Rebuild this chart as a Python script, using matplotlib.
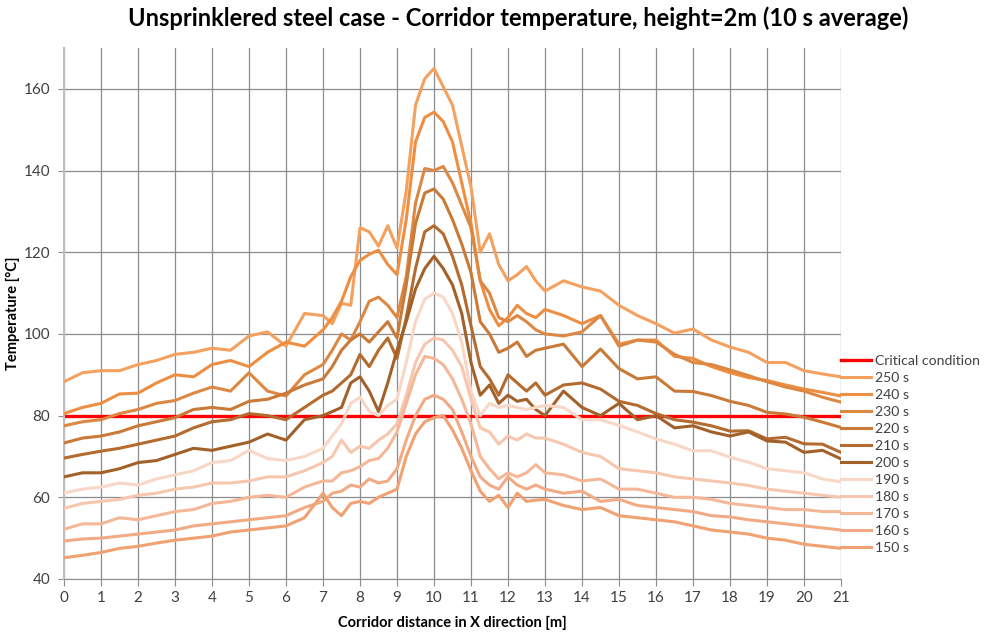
import matplotlib
matplotlib.use("Agg")
import matplotlib.pyplot as plt

plt.rcParams['font.family'] = ['Lato', 'DejaVu Sans']

# distance along corridor [m]
dist = [0, 0.5, 1, 1.5, 2, 2.5, 3, 3.5, 4, 4.5, 5, 5.5, 6, 6.5, 7,
        7.25, 7.5, 7.75, 8, 8.25, 8.5, 8.75, 9, 9.25, 9.5, 9.75, 10,
        10.25, 10.5, 10.75, 11, 11.25, 11.5, 11.75, 12, 12.25, 12.5, 12.75,
        13, 13.5, 14, 14.5, 15, 15.5, 16, 16.5, 17, 17.5, 18, 18.5, 19,
        19.5, 20, 20.5, 21]

critical_temp = 80

t250 = [88.3, 90.5, 91.0, 91.0, 92.5, 93.5, 95.0, 95.5, 96.5, 96.0, 99.5, 100.5, 97.0, 105.0, 104.5,
        102.5, 107.5, 107.0, 126.0, 125.0, 121.5, 126.5, 121.0, 135.0, 156.0, 162.5, 165.0,
        160.5, 156.0, 146.0, 136.0, 120.0, 124.5, 117.0, 113.0, 114.5, 116.5, 113.0,
        110.5, 113.0, 111.5, 110.5, 107.0, 104.5, 102.5, 100.2, 101.2, 98.5, 96.8, 95.5, 93.0,
        93.0, 91.0, 90.2, 89.5]
t240 = [80.5, 82.0, 83.0, 85.3, 85.5, 88.0, 90.0, 89.5, 92.5, 93.5, 92.0, 95.5, 98.0, 97.0, 101.0,
        104.0, 108.0, 114.0, 118.0, 119.5, 120.5, 117.0, 114.5, 128.0, 147.0, 153.0, 154.3,
        152.0, 147.0, 137.0, 127.0, 113.0, 106.0, 102.0, 104.0, 107.0, 105.0, 104.0,
        106.0, 104.5, 102.5, 104.5, 97.5, 98.5, 98.5, 94.5, 94.0, 92.0, 90.5, 89.3, 88.6,
        87.5, 86.5, 85.7, 84.8]
t230 = [77.5, 78.5, 79.0, 80.5, 81.5, 83.0, 83.7, 85.5, 87.0, 86.0, 90.5, 86.0, 84.8, 90.0, 92.5,
        96.0, 100.0, 98.5, 103.0, 108.0, 109.0, 107.0, 104.0, 114.0, 132.0, 140.5, 140.0,
        141.0, 137.0, 131.5, 126.0, 113.0, 110.0, 104.0, 103.0, 104.5, 103.0, 101.0,
        100.0, 99.5, 100.5, 104.5, 97.0, 98.5, 98.0, 95.0, 93.0, 92.5, 91.2, 89.8, 88.3,
        87.0, 86.0, 84.5, 83.3]
t220 = [73.3, 74.5, 75.0, 76.0, 77.5, 78.5, 79.5, 81.5, 82.0, 81.5, 83.5, 84.0, 85.5, 87.5, 89.0,
        92.0, 96.0, 98.5, 100.0, 98.0, 100.5, 103.0, 99.0, 112.0, 127.0, 134.5, 135.5,
        133.0, 128.0, 122.0, 115.0, 103.0, 100.0, 95.5, 96.5, 98.0, 94.5, 96.0,
        96.5, 97.5, 92.0, 96.3, 91.5, 89.0, 89.5, 86.0, 85.9, 84.9, 83.5, 82.5, 80.8,
        80.4, 79.6, 78.4, 77.1]
t210 = [69.6, 70.5, 71.3, 72.0, 73.0, 74.0, 75.0, 77.0, 78.5, 79.0, 80.5, 80.0, 79.0, 82.0, 85.0,
        86.0, 88.0, 90.0, 95.0, 92.0, 96.0, 99.0, 94.0, 104.0, 116.0, 125.0, 126.5,
        124.5, 119.0, 112.0, 102.0, 92.0, 89.0, 85.0, 90.0, 88.0, 86.0, 88.0,
        85.0, 87.5, 88.0, 86.5, 83.5, 82.5, 80.5, 79.0, 78.4, 77.5, 76.2, 76.3, 74.3,
        74.7, 73.1, 73.0, 71.0]
t200 = [65.0, 66.0, 66.0, 67.0, 68.5, 69.0, 70.5, 72.0, 71.5, 72.5, 73.5, 75.5, 74.0, 79.0, 80.0,
        81.0, 82.0, 88.0, 89.5, 86.0, 81.0, 88.0, 96.0, 103.0, 111.0, 116.0, 119.0,
        116.0, 112.0, 105.0, 93.0, 85.0, 87.5, 83.0, 85.0, 83.5, 84.0, 81.5,
        80.0, 86.0, 82.0, 80.0, 83.0, 79.0, 80.0, 77.0, 77.5, 76.0, 75.0, 76.0, 73.8,
        73.5, 71.0, 71.5, 69.4]
t190 = [61.1, 62.0, 62.5, 63.5, 63.0, 64.5, 65.5, 66.5, 68.5, 69.0, 71.5, 69.5, 69.0, 70.0, 72.0,
        75.0, 78.0, 83.0, 84.5, 81.0, 80.0, 82.5, 84.0, 93.0, 103.0, 108.5, 110.0,
        109.0, 105.0, 98.0, 86.0, 80.0, 83.0, 82.0, 82.5, 82.0, 81.5, 82.0,
        82.5, 82.0, 79.0, 79.0, 77.6, 76.0, 74.3, 73.0, 71.4, 71.4, 69.8, 68.6, 67.0,
        66.5, 66.0, 64.5, 63.8]
t180 = [57.3, 58.5, 59.0, 59.5, 60.5, 61.0, 62.0, 62.5, 63.5, 63.5, 64.0, 65.0, 65.0, 66.5, 68.5,
        70.0, 74.0, 71.0, 72.5, 72.0, 74.0, 75.5, 78.0, 85.0, 93.0, 97.5, 99.0,
        98.5, 96.0, 92.0, 84.0, 77.0, 76.0, 73.0, 75.0, 74.0, 75.5, 74.5,
        74.5, 73.0, 71.0, 70.0, 67.0, 66.5, 66.0, 65.0, 64.5, 64.0, 63.5, 62.9, 62.0,
        61.5, 61.0, 60.5, 60.0]
t170 = [52.2, 53.5, 53.5, 55.0, 54.5, 55.5, 56.5, 57.0, 58.5, 59.0, 60.0, 60.5, 60.0, 62.5, 64.0,
        64.0, 66.0, 66.5, 67.5, 69.0, 69.5, 72.0, 76.0, 83.0, 90.0, 94.5, 94.0,
        92.5, 89.0, 84.0, 78.0, 70.0, 67.0, 64.5, 66.0, 65.0, 66.0, 68.0,
        66.0, 65.5, 64.0, 64.5, 62.0, 62.0, 61.0, 60.0, 60.0, 59.5, 58.5, 58.0, 57.5,
        57.0, 57.0, 56.5, 56.5]
t160 = [49.3, 49.8, 50.0, 50.5, 51.0, 51.5, 52.0, 53.0, 53.5, 54.0, 54.5, 55.0, 55.5, 57.5, 59.0,
        61.0, 61.5, 63.0, 62.5, 64.5, 63.5, 64.0, 67.0, 74.0, 80.0, 84.0, 85.0,
        84.0, 81.5, 76.0, 70.0, 65.0, 63.0, 62.0, 65.0, 63.0, 62.0, 63.0,
        62.0, 61.0, 61.5, 59.0, 59.5, 58.0, 57.5, 57.0, 56.5, 55.5, 55.2, 54.5, 54.0,
        53.5, 53.0, 52.5, 52.0]
t150 = [45.2, 45.8, 46.5, 47.5, 48.0, 48.8, 49.5, 50.0, 50.5, 51.5, 52.0, 52.5, 53.0, 55.0, 61.0,
        57.5, 55.5, 58.5, 59.0, 58.5, 60.0, 61.0, 62.0, 70.0, 75.5, 78.5, 79.5,
        80.0, 76.5, 72.0, 66.5, 61.5, 59.0, 60.5, 57.5, 61.0, 59.0, 59.3,
        59.5, 58.0, 57.0, 57.5, 55.5, 55.0, 54.5, 54.0, 53.0, 52.0, 51.5, 51.0, 50.0,
        49.5, 48.5, 48.0, 47.5]

series = [("250 s", t250, "#F4A05E"), ("240 s", t240, "#EE8E42"),
          ("230 s", t230, "#DD8842"), ("220 s", t220, "#C97A37"),
          ("210 s", t210, "#B46B2F"), ("200 s", t200, "#A3612A"),
          ("190 s", t190, "#F8D7C6"), ("180 s", t180, "#F6C7AE"),
          ("170 s", t170, "#F4B898"), ("160 s", t160, "#F2AA84"),
          ("150 s", t150, "#F1A172")]

W, H = 984, 632
fig = plt.figure(figsize=(W/100, H/100), dpi=100)
ax = fig.add_axes([64/W, 1-579/H, (841-64)/W, (579-48)/H])

ax.plot(dist, [critical_temp]*len(dist), color="#FF0000", lw=2.4, label="Critical condition", zorder=2)
for i, (name, vals, col) in enumerate(series):
    ax.plot(dist, vals, color=col, lw=2.2, label=name, zorder=3+i, solid_joinstyle='round')

ax.set_xlim(0, 21)
ax.set_ylim(40, 170)
ax.set_xticks(range(0, 22))
ax.set_yticks(range(40, 161, 20))
ax.grid(True, color="#8C8C8C", lw=0.9)
ax.set_axisbelow(True)
for s in ["top", "right"]:
    ax.spines[s].set_visible(False)
ax.spines["left"].set_color("#BFBFBF")
ax.spines["left"].set_linewidth(1.5)
ax.spines["bottom"].set_color("#8C8C8C")
ax.tick_params(axis="both", colors="#8C8C8C", labelcolor="#404040", labelsize=11)
ax.tick_params(axis="x", direction="out", length=5, pad=4)
ax.tick_params(axis="y", direction="out", length=4, pad=6)

fig.text(518/W, 1-18/H, "Unsprinklered steel case - Corridor temperature, height=2m (10 s average)",
         fontsize=17, fontweight="bold", color="#000000", ha="center", va="center")
ax.set_ylabel("Temperature [°C]", fontsize=10.5, fontweight="bold", va="center")
ax.yaxis.set_label_coords((13-64)/777, 0.5)
ax.set_xlabel("Corridor distance in X direction [m]", fontsize=10.5, fontweight="bold", va="center")
ax.xaxis.set_label_coords(0.5, (579-623)/531)

leg = fig.legend(loc="center left", bbox_to_anchor=(841/W, 1-454.5/H),
                 frameon=False, fontsize=10.1, handlelength=2.15, handletextpad=0.3,
                 labelspacing=0.36, borderpad=0, borderaxespad=0)
for t in leg.get_texts():
    t.set_color("#404040")

fig.savefig("out.png", dpi=100)
